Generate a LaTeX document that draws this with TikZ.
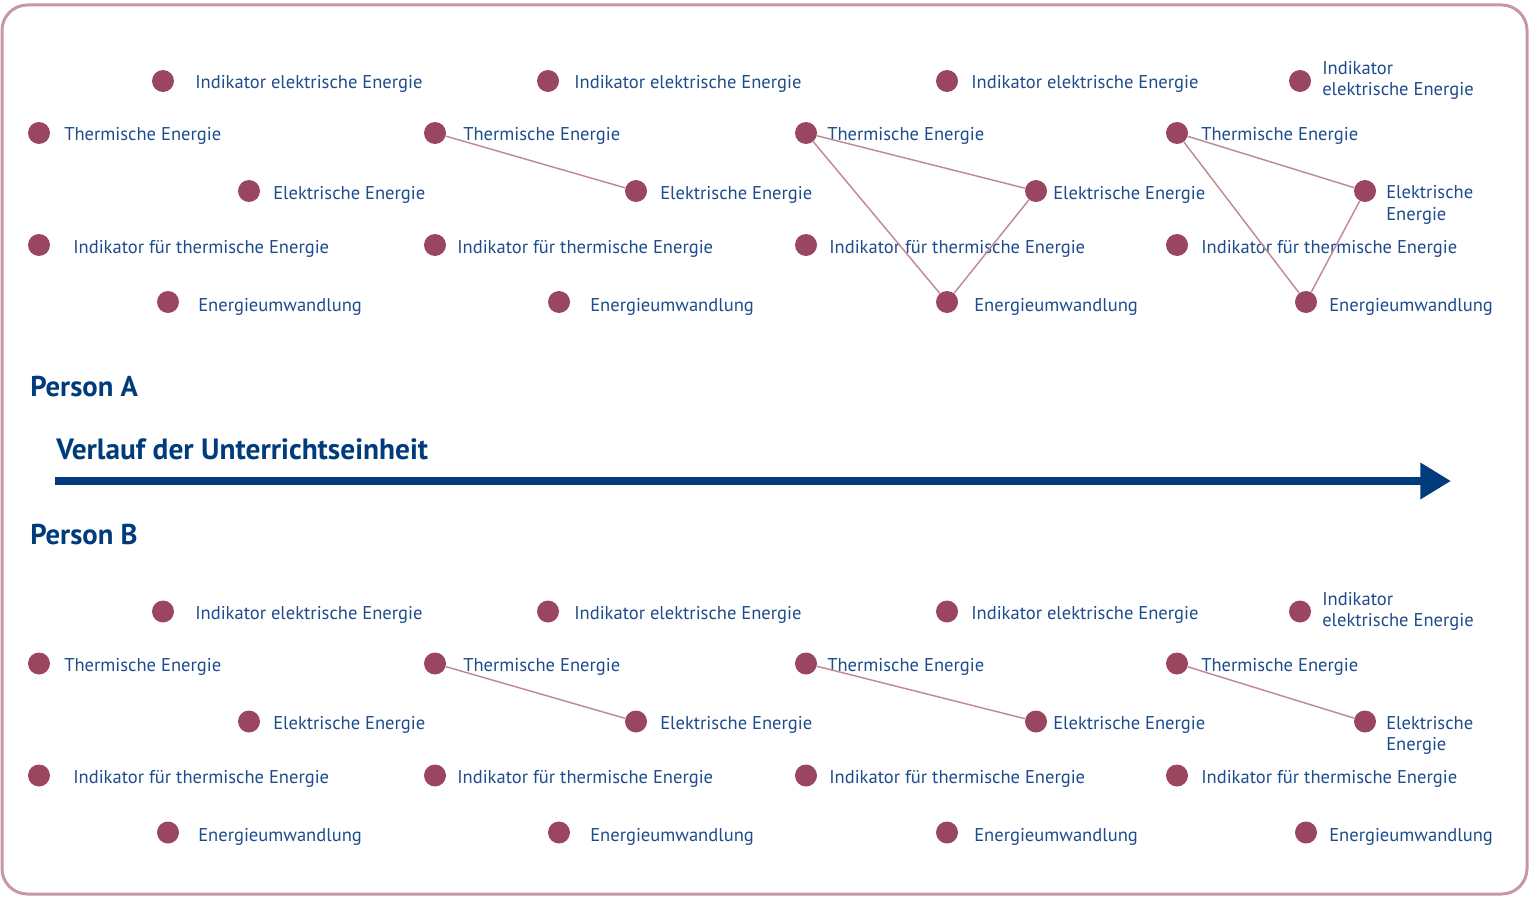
\documentclass[tikz,border=0pt]{standalone}
\usepackage{fontspec}
\setmainfont{PT Sans}
\usepackage{xcolor}
\usetikzlibrary{arrows.meta}

\definecolor{dotred}{HTML}{9B4660}
\definecolor{labelblue}{HTML}{1D4C8C}
\definecolor{titleblue}{HTML}{003B7C}
\definecolor{framerose}{HTML}{C797A6}
\definecolor{linkrose}{HTML}{C0899A}

\tikzset{
	dot/.style={circle, fill=dotred, inner sep=0pt, minimum size=16.5pt},
	lbl/.style={anchor=base west, inner sep=0pt, text=labelblue, font=\fontsize{13.9}{15.8}\selectfont, align=left},
	person/.style={anchor=base west, inner sep=0pt, text=titleblue, font=\fontsize{21.5}{24}\selectfont\bfseries},
	link/.style={draw=linkrose, line width=1.1pt},
}

\begin{document}
\begin{tikzpicture}[x=0.75pt, y=-0.75pt]
	\useasboundingbox (0,0) rectangle (1529,899);
	\draw[framerose, line width=2.25pt, rounded corners=19pt] (2,5) rectangle (1527,894);

	% Person A
	\node[dot] (a1ie) at (163,81) {};
	\node[dot] (a1te) at (39,133) {};
	\node[dot] (a1ee) at (249,191) {};
	\node[dot] (a1it) at (39,245) {};
	\node[dot] (a1eu) at (168,302) {};
	\node[lbl] (a1ieT) at (195,89) {Indikator elektrische Energie};
	\node[lbl] (a1teT) at (64,141) {Thermische Energie};
	\node[lbl] (a1eeT) at (273,199) {Elektrische Energie};
	\node[lbl] (a1itT) at (73,253) {Indikator für thermische Energie};
	\node[lbl] (a1euT) at (198,311) {Energieumwandlung};

	\node[dot] (a2ie) at (548,81) {};
	\node[dot] (a2te) at (435,133) {};
	\node[dot] (a2ee) at (636,191) {};
	\node[dot] (a2it) at (435,245) {};
	\node[dot] (a2eu) at (559,302) {};
	\node[lbl] (a2ieT) at (574,89) {Indikator elektrische Energie};
	\node[lbl] (a2teT) at (463,141) {Thermische Energie};
	\node[lbl] (a2eeT) at (660,199) {Elektrische Energie};
	\node[lbl] (a2itT) at (457,253) {Indikator für thermische Energie};
	\node[lbl] (a2euT) at (590,311) {Energieumwandlung};

	\node[dot] (a3ie) at (947,81) {};
	\node[dot] (a3te) at (806,133) {};
	\node[dot] (a3ee) at (1036,191) {};
	\node[dot] (a3it) at (806,245) {};
	\node[dot] (a3eu) at (947,302) {};
	\node[lbl] (a3ieT) at (971,89) {Indikator elektrische Energie};
	\node[lbl] (a3teT) at (827,141) {Thermische Energie};
	\node[lbl] (a3eeT) at (1053,199) {Elektrische Energie};
	\node[lbl] (a3itT) at (829,253) {Indikator für thermische Energie};
	\node[lbl] (a3euT) at (974,311) {Energieumwandlung};

	\node[dot] (a4ie) at (1300,81) {};
	\node[dot] (a4te) at (1177,133) {};
	\node[dot] (a4ee) at (1365,191) {};
	\node[dot] (a4it) at (1177,245) {};
	\node[dot] (a4eu) at (1306,302) {};
	\node[lbl] (a4ieT) at (1322,96) {Indikator\\elektrische Energie};
	\node[lbl] (a4teT) at (1201,141) {Thermische Energie};
	\node[lbl] (a4eeT) at (1386,220) {Elektrische\\Energie};
	\node[lbl] (a4itT) at (1201,253) {Indikator für thermische Energie};
	\node[lbl] (a4euT) at (1329,311) {Energieumwandlung};

	\draw[link] (a2te) -- (a2ee);
	\draw[link] (a3te) -- (a3ee) -- (a3eu) -- (a3te);
	\draw[link] (a4te) -- (a4ee) -- (a4eu) -- (a4te);

	\node[person] (persA) at (30,396) {Person A};

	% time line
	\node[person, font=\fontsize{22}{24}\selectfont\bfseries] (verlauf) at (56,459) {Verlauf der Unterrichtseinheit};
	\coordinate (tStart) at (55,481);
	\coordinate (tEnd) at (1451,481);
	\draw[titleblue, line width=6pt, -{Triangle[length=23pt, width=26pt]}] (tStart) -- (tEnd);

	\node[person] (persB) at (30,544) {Person B};

	% Person B
	\begin{scope}[shift={(0,530.5)}]
	\node[dot] (b1ie) at (163,81) {};
	\node[dot] (b1te) at (39,133) {};
	\node[dot] (b1ee) at (249,191) {};
	\node[dot] (b1it) at (39,245) {};
	\node[dot] (b1eu) at (168,302) {};
	\node[lbl] (b1ieT) at (195,89) {Indikator elektrische Energie};
	\node[lbl] (b1teT) at (64,141) {Thermische Energie};
	\node[lbl] (b1eeT) at (273,199) {Elektrische Energie};
	\node[lbl] (b1itT) at (73,253) {Indikator für thermische Energie};
	\node[lbl] (b1euT) at (198,311) {Energieumwandlung};

	\node[dot] (b2ie) at (548,81) {};
	\node[dot] (b2te) at (435,133) {};
	\node[dot] (b2ee) at (636,191) {};
	\node[dot] (b2it) at (435,245) {};
	\node[dot] (b2eu) at (559,302) {};
	\node[lbl] (b2ieT) at (574,89) {Indikator elektrische Energie};
	\node[lbl] (b2teT) at (463,141) {Thermische Energie};
	\node[lbl] (b2eeT) at (660,199) {Elektrische Energie};
	\node[lbl] (b2itT) at (457,253) {Indikator für thermische Energie};
	\node[lbl] (b2euT) at (590,311) {Energieumwandlung};

	\node[dot] (b3ie) at (947,81) {};
	\node[dot] (b3te) at (806,133) {};
	\node[dot] (b3ee) at (1036,191) {};
	\node[dot] (b3it) at (806,245) {};
	\node[dot] (b3eu) at (947,302) {};
	\node[lbl] (b3ieT) at (971,89) {Indikator elektrische Energie};
	\node[lbl] (b3teT) at (827,141) {Thermische Energie};
	\node[lbl] (b3eeT) at (1053,199) {Elektrische Energie};
	\node[lbl] (b3itT) at (829,253) {Indikator für thermische Energie};
	\node[lbl] (b3euT) at (974,311) {Energieumwandlung};

	\node[dot] (b4ie) at (1300,81) {};
	\node[dot] (b4te) at (1177,133) {};
	\node[dot] (b4ee) at (1365,191) {};
	\node[dot] (b4it) at (1177,245) {};
	\node[dot] (b4eu) at (1306,302) {};
	\node[lbl] (b4ieT) at (1322,96) {Indikator\\elektrische Energie};
	\node[lbl] (b4teT) at (1201,141) {Thermische Energie};
	\node[lbl] (b4eeT) at (1386,220) {Elektrische\\Energie};
	\node[lbl] (b4itT) at (1201,253) {Indikator für thermische Energie};
	\node[lbl] (b4euT) at (1329,311) {Energieumwandlung};

	\draw[link] (b2te) -- (b2ee);
	\draw[link] (b3te) -- (b3ee);
	\draw[link] (b4te) -- (b4ee);
	\end{scope}
\end{tikzpicture}
\end{document}
